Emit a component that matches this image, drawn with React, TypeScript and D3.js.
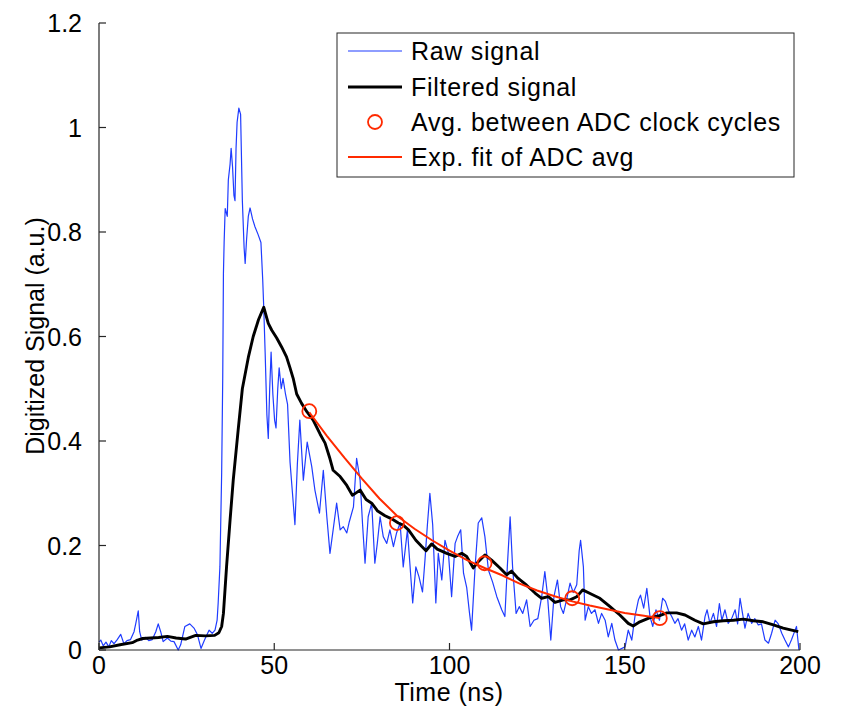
import React from "react";
import * as d3 from "d3";

const rawT = [0,0.5,1.2,2,2.8,3.5,4.3,5.2,6.2,7.1,8,9,10,10.5,11.2,11.6,12.2,13.3,14.2,15.2,16.2,16.9,17.6,18.3,19.5,20.5,21.4,22.6,23.3,24.5,25.9,27.1,28.1,29.1,30.1,31.4,32.3,33.1,33.7,34.0,34.5,35.0,35.3,35.5,35.7,36.0,36.6,36.9,37.4,37.7,38.1,38.5,38.8,39.1,39.4,39.9,40.4,40.9,41.4,41.7,42.1,42.6,43.1,43.8,44.5,45.4,46.2,46.7,47.0,47.4,47.9,48.3,48.7,49.1,49.6,50.1,50.5,51.0,51.4,52.0,52.5,53.2,53.8,54.5,55.2,55.9,56.6,57.3,58.3,59.4,60.7,61.6,62.9,64,65,65.9,66.8,67.8,68.8,69.7,70.7,71.4,72.6,73.5,74.5,75.2,75.9,76.8,77.8,78.7,79.4,80.2,81.1,82.1,83,84,84.9,85.9,86.8,88,89.5,90.4,91.3,92.3,93,93.7,94.4,95.2,96.1,96.8,97.8,98.7,99.7,100.6,101.6,102.3,103.2,104,104.9,105.7,106.3,107.3,108.2,109.2,110.1,111.1,112.3,113.5,114.9,115.8,116.5,117.3,118,119,119.9,120.9,122,123,124.1,125.2,126.3,127.2,127.9,128.9,129.8,130.8,131.7,132.5,133.4,134.4,135.3,136.3,137.0,137.4,138.2,138.7,139.6,140.5,141.5,142.5,143.4,144.4,145.3,146.3,147.2,148.2,150.1,151,152,152.9,153.9,154.5,155.4,156.3,157.2,158,158.9,159.9,160.8,161.6,162.5,163.4,164.3,165.2,166.2,167.1,168.1,169.1,170,171,171.9,172.9,173.5,174.3,175.3,176.2,177,177.7,178.6,179.5,180.5,181.5,182.2,182.9,183.6,184.3,185.2,186.2,187.1,188.1,189,190,191,191.9,192.9,193.8,194.8,195.7,196.7,197.6,198.6,199,199.7];
const rawV = [0.015,0.019,0.008,0.015,0.006,0.018,0.012,0.02,0.03,0.012,0.018,0.02,0.035,0.051,0.075,0.035,0.019,0.024,0.018,0.02,0.035,0.05,0.035,0.016,0.023,0.017,0.016,0.0,0.01,0.045,0.05,0.042,0.029,0.003,0.019,0.038,0.032,0.038,0.057,0.09,0.16,0.34,0.52,0.72,0.78,0.845,0.83,0.9,0.93,0.96,0.925,0.87,0.86,0.96,1.01,1.037,1.025,0.86,0.77,0.74,0.785,0.83,0.846,0.825,0.81,0.795,0.78,0.71,0.656,0.57,0.45,0.405,0.5,0.57,0.49,0.44,0.425,0.5,0.54,0.5,0.52,0.49,0.47,0.36,0.3,0.24,0.357,0.44,0.325,0.398,0.351,0.306,0.262,0.344,0.255,0.185,0.23,0.281,0.23,0.236,0.224,0.245,0.274,0.367,0.325,0.24,0.166,0.255,0.281,0.166,0.204,0.255,0.217,0.204,0.23,0.198,0.224,0.243,0.159,0.23,0.09,0.159,0.14,0.111,0.172,0.24,0.30,0.24,0.09,0.185,0.134,0.21,0.185,0.102,0.204,0.217,0.23,0.147,0.12,0.071,0.038,0.159,0.243,0.253,0.217,0.153,0.13,0.102,0.077,0.064,0.16,0.255,0.159,0.07,0.083,0.07,0.096,0.045,0.057,0.06,0.102,0.15,0.109,0.019,0.102,0.134,0.083,0.07,0.096,0.128,0.11,0.125,0.19,0.21,0.159,0.057,0.083,0.07,0.077,0.051,0.07,0.057,0.025,0.051,0.019,0.0,0.006,0.038,0.019,0.064,0.096,0.105,0.08,0.118,0.064,0.045,0.077,0.057,0.099,0.093,0.075,0.064,0.051,0.06,0.038,0.05,0.019,0.038,0.025,0.045,0.019,0.064,0.077,0.051,0.07,0.045,0.089,0.057,0.077,0.051,0.06,0.077,0.05,0.099,0.07,0.042,0.07,0.051,0.06,0.048,0.05,0.019,0.013,0.032,0.057,0.05,0.032,0.019,0.006,0.02,0.038,0.045,0.0];

const filtT = [0,3,6,9.5,11,12.5,17,19.5,22,24.7,27.6,30.4,33,34.2,35,35.5,36.4,37.4,38.3,39.7,40.9,42.6,44,45.5,47,48.3,49.3,50.7,52.1,53.5,54.5,55.4,56.4,57.8,59.3,61.1,63.1,64.5,65.9,66.8,68.8,70.7,72.3,74.5,76.2,77.8,79.5,81.6,83.5,85.4,86.8,88.3,90.4,92.1,93.3,94.9,96.5,99.2,101.6,103.5,104.9,106.8,108.2,110.1,112,114.4,116.3,117.7,119.6,122,124.4,126.3,128.2,130.1,132.5,134.4,136.3,138,140.1,142.9,145.8,148.6,151,152.4,154.3,157.2,159.6,162,164.8,167.2,170,172.4,175.3,178.1,181,183.8,186.7,189.5,192.4,195.2,197.6,199.5];
const filtV = [0.004,0.006,0.01,0.014,0.019,0.022,0.024,0.026,0.023,0.021,0.028,0.027,0.028,0.033,0.045,0.07,0.16,0.249,0.325,0.421,0.5,0.56,0.6,0.632,0.656,0.625,0.612,0.597,0.58,0.561,0.54,0.52,0.49,0.472,0.456,0.44,0.413,0.396,0.366,0.344,0.332,0.315,0.296,0.306,0.288,0.281,0.266,0.257,0.251,0.243,0.239,0.23,0.21,0.198,0.19,0.203,0.193,0.185,0.179,0.185,0.179,0.157,0.169,0.182,0.172,0.157,0.144,0.151,0.137,0.124,0.109,0.099,0.102,0.091,0.096,0.096,0.102,0.115,0.108,0.099,0.083,0.067,0.051,0.046,0.054,0.062,0.065,0.071,0.071,0.067,0.057,0.05,0.054,0.056,0.057,0.059,0.056,0.054,0.048,0.042,0.038,0.035];

const avgT = [60, 85, 110, 135, 160];
const avgV = [0.457, 0.243, 0.166, 0.099, 0.061];

const fitT = [60,65,70,75,80,85,90,95,100,105,110,115,120,125,130,135,140,145,150,155,160];
const fitV = [0.455,0.41,0.368,0.328,0.29,0.257,0.232,0.21,0.19,0.172,0.157,0.143,0.127,0.114,0.103,0.093,0.085,0.078,0.071,0.066,0.061];

const xTicks = [0, 50, 100, 150, 200];
const yTicks = [0, 0.2, 0.4, 0.6, 0.8, 1, 1.2];
const legendLabels = ["Raw signal", "Filtered signal", "Avg. between ADC clock cycles", "Exp. fit of ADC avg"];

const W = 842, H = 715;
const left = 99, right = 800, top = 23, bottom = 650;
const FONT = "'Liberation Sans', Arial, sans-serif";
const FS = 25;
const BLUE = "#1f3cff";
const RED = "#ff2a00";

export default function App() {
  const x = d3.scaleLinear().domain([0, 200]).range([left, right]);
  const y = d3.scaleLinear().domain([0, 1.2]).range([bottom, top]);
  const line = d3.line<[number, number]>().x(d => x(d[0])).y(d => y(d[1]));
  const raw = rawT.map((t, i) => [t, rawV[i]] as [number, number]);
  const filt = filtT.map((t, i) => [t, filtV[i]] as [number, number]);
  const fit = fitT.map((t, i) => [t, fitV[i]] as [number, number]);

  const lgX = 337, lgY = 33, lgW = 457, lgH = 144;
  const rows = [51, 87, 122, 157];
  return (
    <svg width={W} height={H} style={{ position: "absolute", left: 0, top: 0, background: "#fff" }} fontFamily={FONT}>
      <rect x={0} y={0} width={W} height={H} fill="#fff" />
      <path d={line(raw) || ""} fill="none" stroke={BLUE} strokeWidth={1.2} strokeLinejoin="round" />
      <path d={line(filt) || ""} fill="none" stroke="#000" strokeWidth={2.9} strokeLinejoin="round" />
      <path d={line(fit) || ""} fill="none" stroke={RED} strokeWidth={2} />
      {avgT.map((t, i) => (
        <circle key={i} cx={x(t)} cy={y(avgV[i])} r={7} fill="none" stroke={RED} strokeWidth={1.8} />
      ))}
      <line x1={left} y1={top} x2={left} y2={bottom} stroke="#262626" strokeWidth={1.2} />
      <line x1={left} y1={bottom} x2={right} y2={bottom} stroke="#262626" strokeWidth={1.2} />
      {xTicks.map((t, i) => (
        <g key={"x" + i}>
          <line x1={x(t)} x2={x(t)} y1={bottom} y2={bottom - 7} stroke="#262626" strokeWidth={1.2} />
          <text x={x(t)} y={674} textAnchor="middle" fontSize={FS} fill="#000">{t}</text>
        </g>
      ))}
      {yTicks.map((t, i) => (
        <g key={"y" + i}>
          <line x1={left} x2={left + 7} y1={y(t)} y2={y(t)} stroke="#262626" strokeWidth={1.2} />
          <text x={82} y={y(t) + 9} textAnchor="end" fontSize={FS} fill="#000">{String(t)}</text>
        </g>
      ))}
      <text x={449} y={701} textAnchor="middle" fontSize={FS} letterSpacing={0.5} fill="#000">Time (ns)</text>
      <text transform={`translate(44,336) rotate(-90)`} textAnchor="middle" fontSize={FS} fill="#000">Digitized Signal (a.u.)</text>
      <rect x={lgX} y={lgY} width={lgW} height={lgH} fill="#fff" stroke="#262626" strokeWidth={1} />
      <line x1={348} x2={402} y1={rows[0]} y2={rows[0]} stroke={BLUE} strokeWidth={1.2} />
      <line x1={348} x2={402} y1={rows[1]} y2={rows[1]} stroke="#000" strokeWidth={2.9} />
      <circle cx={375} cy={rows[2]} r={7} fill="none" stroke={RED} strokeWidth={1.8} />
      <line x1={348} x2={402} y1={rows[3]} y2={rows[3]} stroke={RED} strokeWidth={2} />
      {legendLabels.map((s, i) => (
        <text key={s} x={411} y={rows[i] + 9} fontSize={FS} letterSpacing={0.7} fill="#000">{s}</text>
      ))}
    </svg>
  );
}
